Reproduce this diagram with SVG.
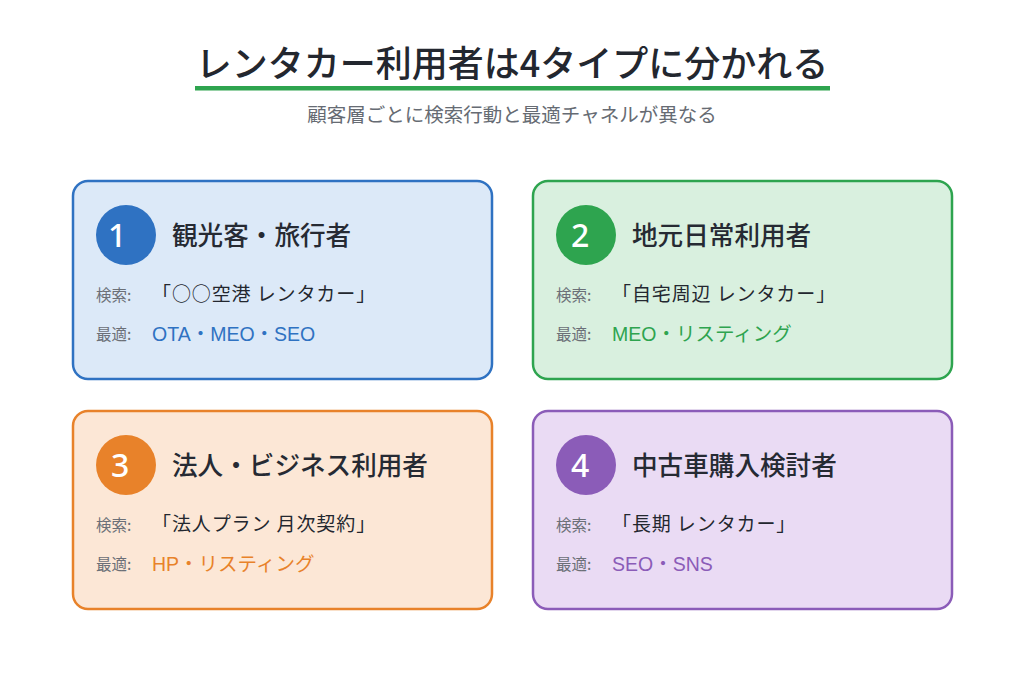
<svg xmlns="http://www.w3.org/2000/svg" width="1024" height="683" viewBox="0 0 1024 683">
<style>
text{font-family:"Noto Sans CJK JP","Noto Sans",sans-serif}
.title{font-size:36px;font-weight:500;fill:#23272f;text-anchor:middle}
.sub{font-size:19.5px;fill:#666b73;text-anchor:middle}
.card{stroke-width:2.5}
.num{font-family:"Noto Sans",sans-serif;font-weight:500;font-size:32px;fill:#fff}
.head{font-size:25.6px;font-weight:500;fill:#262a33}
.lab{font-size:15.5px;fill:#6b6f77}
.q{font-size:19px;font-weight:400;letter-spacing:0.9px;fill:#23272f}
.opt{font-family:"Liberation Sans","Noto Sans CJK JP",sans-serif;font-size:19.5px}
</style>
<rect width="1024" height="683" fill="#fff"/>
<g id="header">
<text class="title" x="512" y="77">レンタカー利用者は4タイプに分かれる</text>
<rect x="195" y="86" width="635" height="4.5" fill="#2ea44f"/>
<text class="sub" x="512" y="122">顧客層ごとに検索行動と最適チャネルが異なる</text>
</g>
<g id="card1">
<rect class="card" x="73" y="181" width="419" height="198" rx="15" fill="#dce9f8" stroke="#2f72c2"/>
<circle cx="126" cy="235" r="30" fill="#2f72c2"/>
<text class="num" x="108" y="247">1</text>
<text class="head" x="172" y="245">観光客・旅行者</text>
<text class="lab" x="96" y="301">検索:</text>
<text class="q" x="152" y="301">「○○空港 レンタカー」</text>
<text class="lab" x="96" y="340">最適:</text>
<text class="opt" x="152" y="341" fill="#2f72c2">OTA・MEO・SEO</text>
</g>
<g id="card2">
<rect class="card" x="533" y="181" width="419" height="198" rx="15" fill="#d9f0df" stroke="#2ea44f"/>
<circle cx="586" cy="235" r="30" fill="#2ea44f"/>
<text class="num" x="571" y="247">2</text>
<text class="head" x="632" y="245">地元日常利用者</text>
<text class="lab" x="556" y="301">検索:</text>
<text class="q" x="612" y="301">「自宅周辺 レンタカー」</text>
<text class="lab" x="556" y="340">最適:</text>
<text class="opt" x="612" y="341" fill="#2ea44f">MEO・リスティング</text>
</g>
<g id="card3">
<rect class="card" x="73" y="411" width="419" height="198" rx="15" fill="#fce7d6" stroke="#e8822a"/>
<circle cx="126" cy="465" r="30" fill="#e8822a"/>
<text class="num" x="111" y="477">3</text>
<text class="head" x="172" y="475">法人・ビジネス利用者</text>
<text class="lab" x="96" y="531">検索:</text>
<text class="q" x="152" y="531">「法人プラン 月次契約」</text>
<text class="lab" x="96" y="570">最適:</text>
<text class="opt" x="152" y="571" fill="#e8822a">HP・リスティング</text>
</g>
<g id="card4">
<rect class="card" x="533" y="411" width="419" height="198" rx="15" fill="#eadbf4" stroke="#8b5cb8"/>
<circle cx="586" cy="465" r="30" fill="#8b5cb8"/>
<text class="num" x="571" y="477">4</text>
<text class="head" x="632" y="475">中古車購入検討者</text>
<text class="lab" x="556" y="531">検索:</text>
<text class="q" x="612" y="531">「長期 レンタカー」</text>
<text class="lab" x="556" y="570">最適:</text>
<text class="opt" x="612" y="571" fill="#8b5cb8">SEO・SNS</text>
</g>
</svg>
